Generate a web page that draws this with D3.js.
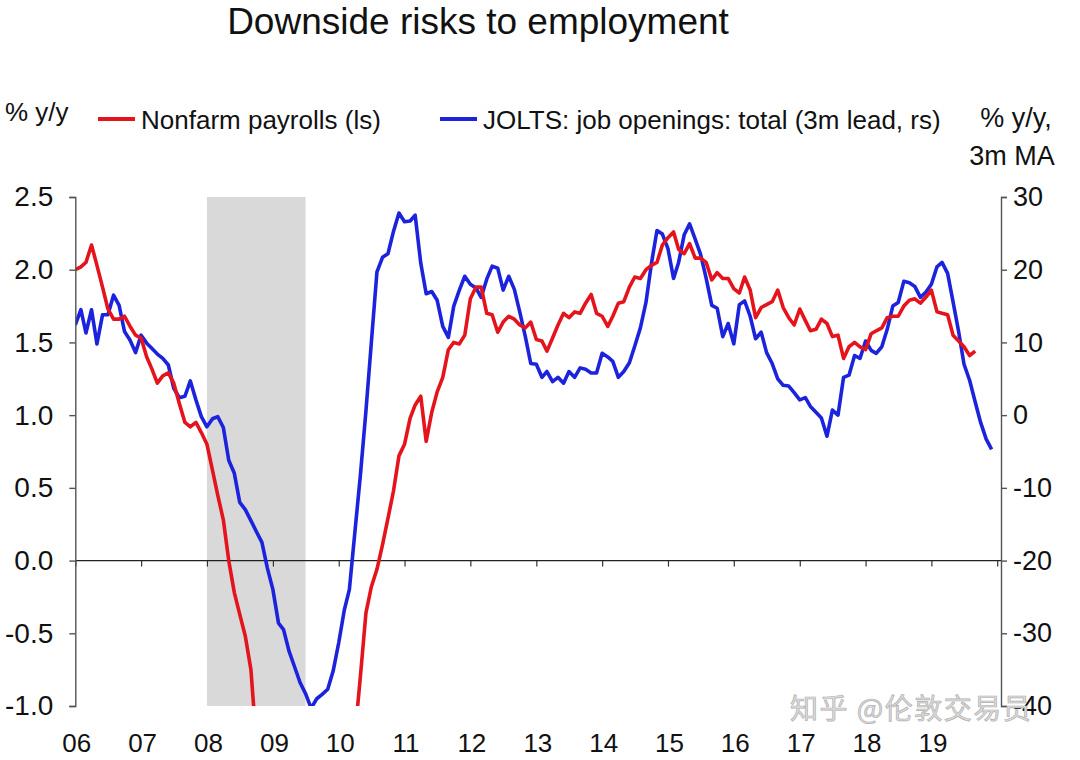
<!DOCTYPE html>
<html>
<head>
<meta charset="utf-8">
<script src="https://cdn.jsdelivr.net/npm/d3@7"></script>
<style>
  html, body { margin: 0; padding: 0; background: #fff; }
  svg { display: block; font-family: "Liberation Sans", Arial, sans-serif; }
</style>
</head>
<body>
<svg id="chart" width="1080" height="760"></svg>
<script>
// ---------------- DATA ----------------
const startYear = 2006;
const titleText = "Downside risks to employment";
const seriesNames = ["Nonfarm payrolls (ls)", "JOLTS: job openings: total (3m lead, rs)"];
const leftUnit = "% y/y";
const rightUnit = ["% y/y,", "3m MA"];
const xTickLabels = ["06","07","08","09","10","11","12","13","14","15","16","17","18","19"];
const yLeftTicks = [-1.0, -0.5, 0.0, 0.5, 1.0, 1.5, 2.0, 2.5];
const yRightTicks = [-40, -30, -20, -10, 0, 10, 20, 30];
const recession = [[2008, 0], [2009, 6]]; // [year, monthIndex]
const watermark = "知乎 @伦敦交易员";

// Nonfarm payrolls, % y/y, monthly from Jan 2006 (left scale)
const payrolls = [
  2.00, 2.02, 2.05, 2.17, 2.03, 1.88, 1.73, 1.66, 1.66, 1.68, 1.61, 1.55,
  1.53, 1.40, 1.32, 1.22, 1.27, 1.29, 1.22, 1.08, 0.95, 0.92, 0.95, 0.88,
  0.80, 0.62, 0.45, 0.28, 0.00, -0.22, -0.37, -0.52, -0.75, -1.25, -1.6, -2.0,
  -2.5, -3.0, -3.4, -3.8, -4.1, -4.4, -4.6, -4.8, -4.9, -5.0, -4.9, -4.7,
  -4.3, -3.7, -2.9, -1.2, -0.80, -0.36, -0.18, -0.06, 0.11, 0.29, 0.48, 0.72,
  0.80, 0.98, 1.07, 1.13, 0.82, 1.02, 1.16, 1.26, 1.45, 1.50, 1.49, 1.55,
  1.80, 1.88, 1.88, 1.70, 1.69, 1.57, 1.64, 1.68, 1.66, 1.62, 1.60, 1.64,
  1.52, 1.51, 1.44, 1.53, 1.62, 1.70, 1.67, 1.71, 1.70, 1.77, 1.83, 1.70,
  1.68, 1.61, 1.68, 1.77, 1.78, 1.88, 1.95, 1.94, 2.00, 2.03, 2.05, 2.17,
  2.22, 2.26, 2.14, 2.11, 2.18, 2.08, 2.08, 2.05, 1.93, 1.98, 1.94, 1.94,
  1.87, 1.84, 1.95, 1.86, 1.67, 1.74, 1.76, 1.78, 1.86, 1.74, 1.67, 1.62,
  1.73, 1.65, 1.58, 1.59, 1.66, 1.63, 1.54, 1.55, 1.39, 1.47, 1.50, 1.47,
  1.45, 1.56, 1.58, 1.60, 1.67, 1.68, 1.68, 1.75, 1.79, 1.80, 1.77, 1.81,
  1.86, 1.71, 1.70, 1.69, 1.55, 1.51, 1.47, 1.41, 1.44
];

// JOLTS job openings, % y/y 3m MA, 3m lead, monthly from Jan 2006 (right scale)
const jolts = [
  12.4, 14.5, 11.3, 14.5, 9.8, 13.8, 13.8, 16.5, 15.1, 11.5, 10.3, 8.6,
  11.0, 9.9, 9.2, 8.4, 7.8, 6.9, 3.7, 2.4, 2.6, 4.7, 2.1, -0.2,
  -1.6, -0.5, -0.2, -1.7, -6.2, -8.0, -12.0, -13.0, -14.5, -16.0, -17.5, -21.0,
  -24.0, -28.6, -29.5, -32.5, -34.6, -36.8, -38.3, -40.3, -39.0, -38.4, -37.7, -35.2,
  -31.3, -26.8, -24.0, -16.0, -8.3, 0.6, 10.0, 19.7, 21.7, 22.2, 25.3, 27.8,
  26.6, 26.7, 27.5, 20.9, 16.7, 17.0, 15.8, 12.2, 10.7, 15.0, 17.2, 19.1,
  18.0, 17.5, 16.2, 18.7, 20.5, 20.2, 17.2, 19.1, 17.3, 14.2, 10.8, 7.1,
  7.0, 5.2, 6.0, 4.6, 5.2, 4.4, 6.0, 5.2, 6.5, 6.3, 5.8, 5.8,
  8.5, 8.0, 7.4, 5.2, 6.0, 7.2, 9.5, 12.0, 15.5, 20.8, 25.4, 24.9,
  22.9, 18.8, 21.0, 24.8, 26.3, 24.2, 22.1, 18.8, 15.1, 14.7, 10.8, 12.6,
  9.8, 15.2, 15.7, 13.6, 10.5, 11.4, 8.6, 7.1, 5.0, 4.1, 4.0, 3.1,
  2.1, 2.4, 1.2, 0.4, -0.4, -2.9, 0.7, 0.0, 5.2, 5.5, 8.2, 7.8,
  10.2, 8.9, 8.5, 9.4, 11.8, 15.0, 15.5, 18.4, 18.2, 17.7, 16.2, 16.9,
  18.0, 20.4, 21.0, 19.5, 15.6, 11.5, 7.0, 4.8, 1.8, -1.0, -3.3, -4.7
];

// ---------------- CHART ----------------
const svg = d3.select("#chart");
const pLeft = 75.3, pRight = 1001, xEnd = 997.2, pTop = 197, pBottom = 706;
const red = "#e5131c", blue = "#1b23dc";

const dateOf = i => new Date(startYear, i, 1);
const x = d3.scaleTime().domain([new Date(2006, 0, 1), new Date(2020, 0, 1)]).range([pLeft, xEnd]);
const yL = d3.scaleLinear().domain([-1, 2.5]).range([pBottom, pTop]);
const yR = d3.scaleLinear().domain([-40, 30]).range([pBottom, pTop]);

svg.append("defs").append("clipPath").attr("id", "plotclip")
  .append("rect").attr("x", pLeft).attr("y", pTop).attr("width", pRight - pLeft).attr("height", pBottom - pTop);

// title
svg.append("text").attr("x", 478).attr("y", 34).attr("text-anchor", "middle")
  .attr("font-size", 37).attr("fill", "#111").text(titleText);

// recession shading
const r0 = x(new Date(recession[0][0], recession[0][1], 1));
const r1 = x(new Date(recession[1][0], recession[1][1], 1));
svg.append("rect").attr("x", r0).attr("y", pTop).attr("width", r1 - r0).attr("height", pBottom - pTop)
  .attr("fill", "#d9d9d9");

// zero line with year ticks
const zeroAxis = d3.axisBottom(x).ticks(d3.timeYear.every(1)).tickSize(6).tickFormat("");
const zg = svg.append("g").attr("transform", `translate(0,${yL(0)})`).call(zeroAxis);
zg.select(".domain").remove();
zg.selectAll(".tick line").attr("stroke", "#333").attr("stroke-width", 1.2);
svg.append("line").attr("x1", pLeft).attr("x2", pRight).attr("y1", yL(0)).attr("y2", yL(0))
  .attr("stroke", "#222").attr("stroke-width", 1.3);

// lines
const lineL = d3.line().x((d, i) => x(dateOf(i))).y(d => yL(d));
const lineR = d3.line().x((d, i) => x(dateOf(i))).y(d => yR(d));
const lg = svg.append("g").attr("clip-path", "url(#plotclip)");
lg.append("path").datum(jolts).attr("d", lineR).attr("fill", "none")
  .attr("stroke", blue).attr("stroke-width", 3.6).attr("stroke-linejoin", "round");
lg.append("path").datum(payrolls).attr("d", lineL).attr("fill", "none")
  .attr("stroke", red).attr("stroke-width", 3.6).attr("stroke-linejoin", "round");

// left axis
const axL = d3.axisLeft(yL).tickValues(yLeftTicks).tickSize(6).tickSizeOuter(6).tickPadding(16)
  .tickFormat(d => d.toFixed(1));
const gL = svg.append("g").attr("transform", `translate(${pLeft},0)`).call(axL);
gL.selectAll("text").attr("font-size", 28).attr("fill", "#111").attr("font-family", "Liberation Sans, Arial, sans-serif");
gL.selectAll("path, line").attr("stroke", "#555").attr("stroke-width", 1.4);

// right axis
const axR = d3.axisRight(yR).tickValues(yRightTicks).tickSize(6).tickSizeOuter(6).tickPadding(6)
  .tickFormat(d => String(d));
const gR = svg.append("g").attr("transform", `translate(${pRight},0)`).call(axR);
gR.selectAll("text").attr("font-size", 27).attr("fill", "#111").attr("font-family", "Liberation Sans, Arial, sans-serif");
gR.selectAll("path, line").attr("stroke", "#555").attr("stroke-width", 1.4);

// year labels
const years = d3.range(0, xTickLabels.length).map(i => new Date(2006 + i, 0, 1));
const axX = d3.axisBottom(x).tickValues(years).tickSize(0).tickPadding(0)
  .tickFormat((d, i) => xTickLabels[i]);
const gX = svg.append("g").attr("transform", `translate(1,734)`).call(axX);
gX.select(".domain").remove();
gX.selectAll("text").attr("font-size", 26).attr("fill", "#111").attr("font-family", "Liberation Sans, Arial, sans-serif");

// units
svg.append("text").attr("x", 5).attr("y", 121).attr("font-size", 26).attr("fill", "#111").text(leftUnit);
svg.append("text").attr("x", 1016).attr("y", 127).attr("text-anchor", "middle").attr("font-size", 27).attr("fill", "#111").text(rightUnit[0]);
svg.append("text").attr("x", 1012).attr("y", 165).attr("text-anchor", "middle").attr("font-size", 27).attr("fill", "#111").text(rightUnit[1]);

// legend
const legend = [
  { name: seriesNames[0], color: red, x: 98 },
  { name: seriesNames[1], color: blue, x: 440 }
];
legend.forEach(l => {
  svg.append("line").attr("x1", l.x).attr("x2", l.x + 37).attr("y1", 119).attr("y2", 119)
    .attr("stroke", l.color).attr("stroke-width", 4);
  svg.append("text").attr("x", l.x + 43).attr("y", 129).attr("font-size", 26).attr("fill", "#111").text(l.name);
});

// watermark
svg.append("text").attr("x", 790).attr("y", 719).attr("font-size", 28)
  .attr("letter-spacing", 1.5)
  .attr("font-family", "Noto Sans CJK SC, sans-serif")
  .attr("fill", "#dcdcdc").attr("stroke", "#b0b0b0").attr("stroke-width", 0.7)
  .text(watermark);
</script>
</body>
</html>
